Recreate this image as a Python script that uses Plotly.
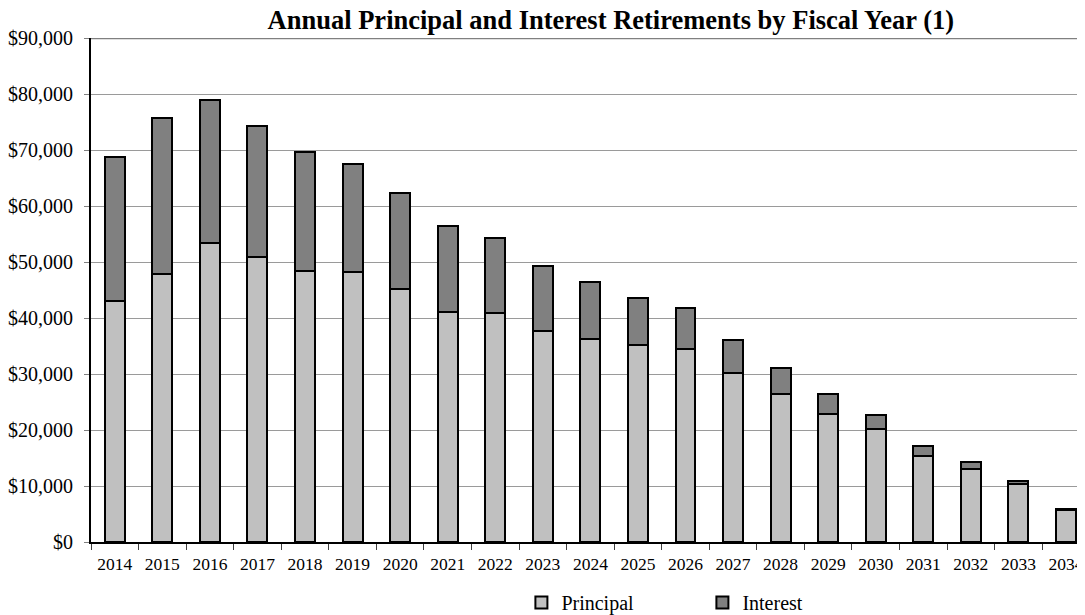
import plotly.graph_objects as go

years = [str(y) for y in range(2014, 2035)]
principal = [43100, 47900, 53400, 50900, 48400, 48300, 45200, 41100, 40900, 37600,
             36300, 35100, 34400, 30200, 26500, 22900, 20200, 15400, 13100, 10400, 5650]
totals = [68700, 75700, 79000, 74300, 69600, 67500, 62400, 56400, 54300, 49300,
          46400, 43600, 41700, 36000, 31100, 26400, 22700, 17200, 14300, 10950, 5900]
interest = [t - p for t, p in zip(totals, principal)]

title_text = "Annual Principal and Interest Retirements by Fiscal Year (1)"
serif = "Liberation Serif, Times New Roman, serif"

fig = go.Figure()
fig.add_trace(go.Bar(x=years, y=principal, name="Principal",
                     marker=dict(color="#C0C0C0", line=dict(color="#000000", width=2))))
fig.add_trace(go.Bar(x=years, y=interest, name="Interest",
                     marker=dict(color="#808080", line=dict(color="#000000", width=2))))

# page body has an 8px margin, so the figure is sized to fill the remaining window
fig.update_layout(
    width=1077, height=607,
    barmode="stack", bargap=0.58,
    plot_bgcolor="white", paper_bgcolor="white",
    margin=dict(l=83, r=0, t=30, b=73, autoexpand=False),
    font=dict(family=serif, color="#000000"),
    title=dict(text="<b>" + title_text + "</b>", x=0.523, xref="paper", xanchor="center",
               y=1 - 12 / 607, yref="container", yanchor="middle",
               font=dict(size=26.5, family=serif, color="#000000")),
    legend=dict(orientation="h", x=0.433, xanchor="left", y=-0.12, yanchor="middle",
                entrywidth=136, font=dict(size=20, family=serif), itemwidth=30,
                traceorder="normal"),
    showlegend=True,
)
fig.update_xaxes(type="category", range=[-0.5, 20.4], tickson="boundaries",
                 ticks="outside", ticklen=6, tickcolor="#404040", showgrid=False,
                 showline=True, linecolor="#000000", linewidth=2, automargin=False,
                 ticklabelstandoff=5,
                 tickfont=dict(size=17.5, family=serif, color="#000000"))
fig.update_yaxes(range=[0, 90000], dtick=10000, tickprefix="$", tickformat=",.0f",
                 showgrid=True, gridcolor="#9A9A9A", gridwidth=1,
                 ticks="outside", ticklen=5, tickcolor="#808080", automargin=False,
                 ticklabelstandoff=7,
                 showline=True, linecolor="#000000", linewidth=2, zeroline=False,
                 tickfont=dict(size=20, family=serif, color="#000000"))
fig.add_shape(type="line", xref="paper", yref="y", x0=0, x1=1, y0=90000, y1=90000,
              line=dict(color="#808080", width=2.5))

fig.write_html("out.html")
